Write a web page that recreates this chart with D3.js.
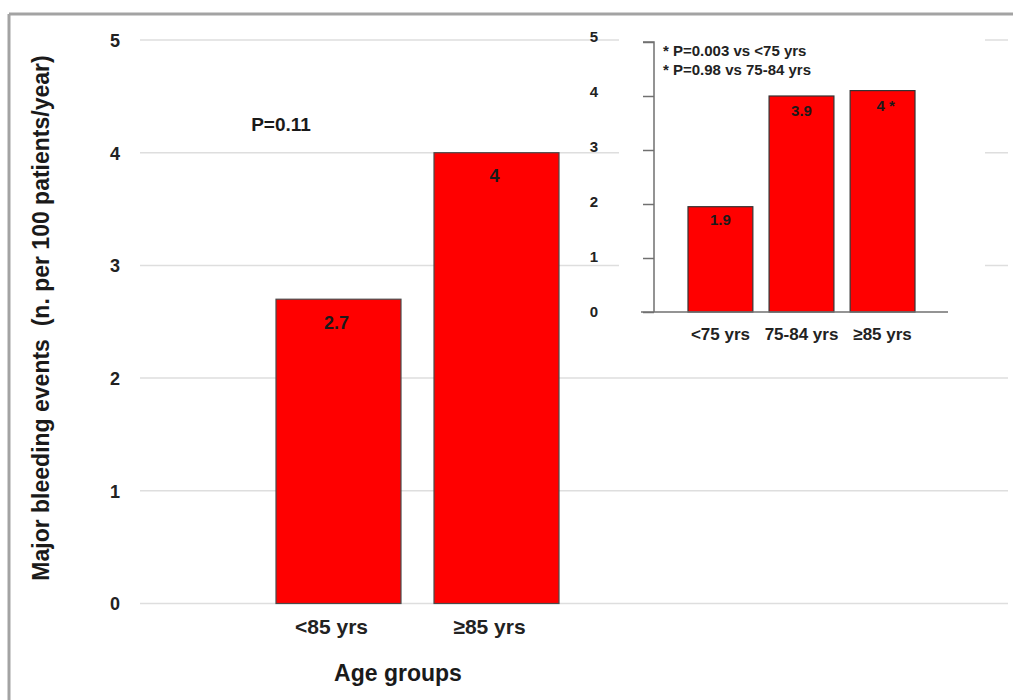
<!DOCTYPE html>
<html>
<head>
<meta charset="utf-8">
<script src="https://cdn.jsdelivr.net/npm/d3@7"></script>
<style>
  html, body { margin: 0; padding: 0; background: #fff; }
  svg { display: block; font-family: Arial, "Liberation Sans", sans-serif; }
</style>
</head>
<body>
<svg id="chart" width="1013" height="700"></svg>
<script>
// ---- data ----
const mainCategories = ["<85 yrs", "\u226585 yrs"];
const mainValues = [2.7, 4.0];
const mainLabels = ["2.7", "4"];
const mainTicks = [0, 1, 2, 3, 4, 5];

const insetCategories = ["<75 yrs", "75-84 yrs", "\u226585 yrs"];
const insetValues = [1.95, 4.0, 4.1];
const insetLabels = ["1.9", "3.9", "4 *"];
const insetTicks = [0, 1, 2, 3, 4, 5];
const insetNotes = ["* P=0.003 vs <75 yrs", "* P=0.98 vs 75-84 yrs"];

const yTitle = "Major bleeding events  (n. per 100 patients/year)";
const xTitle = "Age groups";
const pText = "P=0.11";

// ---- drawing ----
const svg = d3.select("#chart");

// frame
svg.append("line").attr("x1", 9).attr("x2", 1013).attr("y1", 14).attr("y2", 14)
  .attr("stroke", "#a3a3a3").attr("stroke-width", 3);
svg.append("line").attr("x1", 9).attr("x2", 9).attr("y1", 14).attr("y2", 700)
  .attr("stroke", "#a3a3a3").attr("stroke-width", 3);

// main scales
const y = d3.scaleLinear().domain([0, 5]).range([603.5, 40]);
const x = d3.scaleBand().domain(mainCategories).range([276, 559]).paddingInner(0.209).paddingOuter(0);

// gridlines
svg.append("g").selectAll("line").data(mainTicks).join("line")
  .attr("x1", 140).attr("x2", 1008)
  .attr("y1", d => y(d)).attr("y2", d => y(d))
  .attr("stroke", "#dedede").attr("stroke-width", 1.5);

// main y tick labels via axis
const yAxis = svg.append("g").attr("transform", "translate(120,0)")
  .call(d3.axisLeft(y).tickValues(mainTicks).tickSize(0).tickPadding(0).tickFormat(d3.format("d")));
yAxis.select(".domain").remove();
yAxis.selectAll("text").attr("font-size", 18).attr("font-weight", "bold").attr("fill", "#222")
  .attr("font-family", "Arial, 'Liberation Sans', sans-serif").attr("dy", "0.35em");

// main bars
svg.append("g").selectAll("rect").data(mainValues).join("rect")
  .attr("x", (d, i) => x(mainCategories[i]))
  .attr("y", d => y(d))
  .attr("width", x.bandwidth())
  .attr("height", d => y(0) - y(d))
  .attr("fill", "#ff0000").attr("stroke", "#4a4a4a").attr("stroke-width", 1.2);

svg.append("g").selectAll("text").data(mainValues).join("text")
  .attr("x", (d, i) => x(mainCategories[i]) + x.bandwidth() / 2 - 2)
  .attr("y", d => y(d) + 23)
  .attr("dy", "0.35em")
  .attr("text-anchor", "middle")
  .attr("font-size", 18).attr("font-weight", "bold").attr("fill", "#1a1a1a")
  .text((d, i) => mainLabels[i]);

// main x labels via axis
const xAxis = svg.append("g").attr("transform", "translate(0,616)")
  .call(d3.axisBottom(x).tickSize(0).tickPadding(0));
xAxis.select(".domain").remove();
xAxis.selectAll("text").attr("font-size", 21).attr("font-weight", "bold").attr("fill", "#222")
  .attr("font-family", "Arial, 'Liberation Sans', sans-serif")
  .attr("dx", -7).attr("dy", "0.85em");

// titles
svg.append("text").attr("x", 398).attr("y", 681).attr("text-anchor", "middle")
  .attr("font-size", 23).attr("font-weight", "bold").attr("fill", "#1a1a1a").text(xTitle);
svg.append("text").attr("transform", "translate(49,318) rotate(-90)").attr("text-anchor", "middle")
  .style("white-space", "pre")
  .attr("font-size", 23).attr("font-weight", "bold").attr("fill", "#1a1a1a").text(yTitle);

svg.append("text").attr("x", 281).attr("y", 131).attr("text-anchor", "middle")
  .attr("font-size", 19).attr("font-weight", "bold").attr("fill", "#1a1a1a").text(pText);

// ---- inset ----
const inset = svg.append("g");
inset.append("rect").attr("x", 619).attr("y", 22).attr("width", 366).attr("height", 334).attr("fill", "#fff");

const yi = d3.scaleLinear().domain([0, 5]).range([312, 42]);
const xi = d3.scaleBand().domain(insetCategories).range([688, 915]).paddingInner(0.2).paddingOuter(0);

// inset ticks
const yiAxis = inset.append("g").attr("transform", "translate(654,0)")
  .call(d3.axisLeft(yi).tickValues(insetTicks).tickSize(11).tickPadding(0).tickFormat(""));
yiAxis.select(".domain").attr("stroke", "#707070").attr("stroke-width", 1.5)
  .attr("d", `M-11,${yi(5)}H0V${yi(0)}`);
yiAxis.selectAll(".tick line").attr("stroke", "#707070").attr("stroke-width", 1.5);

// inset tick labels
inset.append("g").selectAll("text").data(insetTicks).join("text")
  .attr("x", 594).attr("y", d => yi(d) - (d * 1.1))
  .attr("dy", "0.35em").attr("text-anchor", "middle")
  .attr("font-size", 15).attr("font-weight", "bold").attr("fill", "#222")
  .text(d => d);

// inset bars
inset.append("g").selectAll("rect").data(insetValues).join("rect")
  .attr("x", (d, i) => xi(insetCategories[i]))
  .attr("y", d => yi(d))
  .attr("width", xi.bandwidth())
  .attr("height", d => yi(0) - yi(d))
  .attr("fill", "#ff0000").attr("stroke", "#333").attr("stroke-width", 1.2);

// baseline
inset.append("line").attr("x1", 641).attr("x2", 948).attr("y1", yi(0)).attr("y2", yi(0))
  .attr("stroke", "#707070").attr("stroke-width", 1.5);

inset.append("g").selectAll("text").data(insetValues).join("text")
  .attr("x", (d, i) => xi(insetCategories[i]) + xi.bandwidth() / 2 + (i === 2 ? 3 : 0))
  .attr("y", (d, i) => yi(d) + (i === 0 ? 13 : 15))
  .attr("dy", "0.35em").attr("text-anchor", "middle")
  .attr("font-size", 15).attr("font-weight", "bold").attr("fill", "#1a1a1a")
  .text((d, i) => insetLabels[i]);

// inset x labels
const xiAxis = inset.append("g").attr("transform", `translate(0,${yi(0) + 14})`)
  .call(d3.axisBottom(xi).tickSize(0).tickPadding(0));
xiAxis.select(".domain").remove();
xiAxis.selectAll("text").attr("font-size", 17).attr("font-weight", "bold").attr("fill", "#222")
  .attr("font-family", "Arial, 'Liberation Sans', sans-serif")
  .attr("dy", "0.8em");

// notes
inset.append("g").selectAll("text").data(insetNotes).join("text")
  .attr("x", 663).attr("y", (d, i) => 56 + i * 19)
  .attr("font-size", 15).attr("font-weight", "bold").attr("fill", "#222")
  .text(d => d);
</script>
</body>
</html>
